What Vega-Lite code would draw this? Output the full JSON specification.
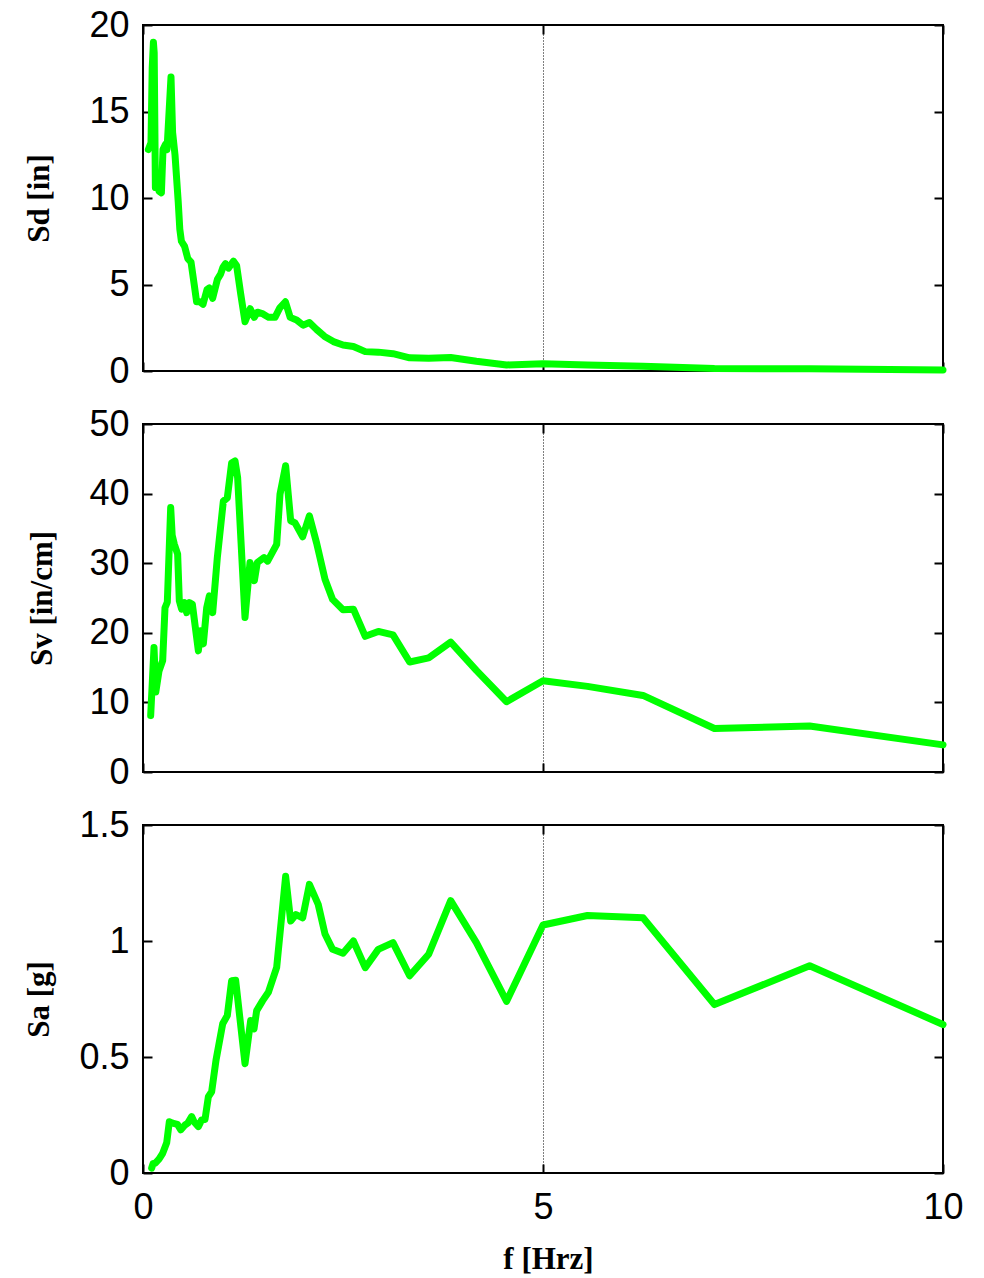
{
  "$schema": "https://vega.github.io/schema/vega-lite/v6.json",
  "background": "white",
  "padding": {"left": 22, "top": 6, "right": 5, "bottom": 5},
  "datasets": {
    "sd": [
      {"f": 0.067, "v": 12.8}, {"f": 0.1, "v": 13.2}, {"f": 0.115, "v": 17.5}, {"f": 0.13, "v": 19.0}, {"f": 0.14, "v": 18.4},
      {"f": 0.155, "v": 10.6}, {"f": 0.175, "v": 11.0}, {"f": 0.2, "v": 10.4}, {"f": 0.23, "v": 10.3}, {"f": 0.25, "v": 12.8},
      {"f": 0.28, "v": 13.1}, {"f": 0.3, "v": 12.8}, {"f": 0.35, "v": 17.0}, {"f": 0.37, "v": 13.8}, {"f": 0.4, "v": 12.5},
      {"f": 0.44, "v": 9.8}, {"f": 0.46, "v": 8.2}, {"f": 0.48, "v": 7.5}, {"f": 0.52, "v": 7.2}, {"f": 0.56, "v": 6.5},
      {"f": 0.6, "v": 6.3}, {"f": 0.64, "v": 5.0}, {"f": 0.67, "v": 4.0}, {"f": 0.71, "v": 4.0}, {"f": 0.75, "v": 3.85},
      {"f": 0.8, "v": 4.7}, {"f": 0.83, "v": 4.8}, {"f": 0.87, "v": 4.2}, {"f": 0.93, "v": 5.3}, {"f": 0.97, "v": 5.6},
      {"f": 1.0, "v": 6.0}, {"f": 1.03, "v": 6.2}, {"f": 1.07, "v": 5.95}, {"f": 1.13, "v": 6.35}, {"f": 1.17, "v": 6.1},
      {"f": 1.22, "v": 4.5}, {"f": 1.275, "v": 2.85}, {"f": 1.34, "v": 3.6}, {"f": 1.39, "v": 3.1}, {"f": 1.43, "v": 3.4},
      {"f": 1.5, "v": 3.3}, {"f": 1.57, "v": 3.1}, {"f": 1.65, "v": 3.1}, {"f": 1.71, "v": 3.65}, {"f": 1.78, "v": 4.0},
      {"f": 1.84, "v": 3.1}, {"f": 1.92, "v": 2.95}, {"f": 2.0, "v": 2.65}, {"f": 2.08, "v": 2.8}, {"f": 2.17, "v": 2.4},
      {"f": 2.27, "v": 2.0}, {"f": 2.38, "v": 1.7}, {"f": 2.5, "v": 1.5}, {"f": 2.63, "v": 1.42}, {"f": 2.778, "v": 1.12},
      {"f": 2.941, "v": 1.09}, {"f": 3.125, "v": 1.0}, {"f": 3.333, "v": 0.76}, {"f": 3.571, "v": 0.73}, {"f": 3.846, "v": 0.78},
      {"f": 4.167, "v": 0.56}, {"f": 4.545, "v": 0.35}, {"f": 5.0, "v": 0.42}, {"f": 5.556, "v": 0.35}, {"f": 6.25, "v": 0.28},
      {"f": 7.143, "v": 0.14}, {"f": 8.333, "v": 0.13}, {"f": 10.0, "v": 0.06}
    ],
    "sv": [
      {"f": 0.096, "v": 8.1}, {"f": 0.1375, "v": 17.9}, {"f": 0.16, "v": 11.5}, {"f": 0.2, "v": 14.5}, {"f": 0.246, "v": 16.0},
      {"f": 0.275, "v": 23.6}, {"f": 0.304, "v": 24.4}, {"f": 0.346, "v": 38.0}, {"f": 0.365, "v": 34.0}, {"f": 0.392, "v": 32.7},
      {"f": 0.433, "v": 31.3}, {"f": 0.454, "v": 24.6}, {"f": 0.483, "v": 23.4}, {"f": 0.517, "v": 24.35}, {"f": 0.546, "v": 22.9},
      {"f": 0.579, "v": 24.35}, {"f": 0.617, "v": 24.1}, {"f": 0.692, "v": 17.4}, {"f": 0.72, "v": 20.3}, {"f": 0.754, "v": 18.4},
      {"f": 0.796, "v": 23.6}, {"f": 0.829, "v": 25.3}, {"f": 0.871, "v": 22.9}, {"f": 0.929, "v": 30.8}, {"f": 1.004, "v": 38.9},
      {"f": 1.054, "v": 39.4}, {"f": 1.108, "v": 44.4}, {"f": 1.15, "v": 44.7}, {"f": 1.183, "v": 42.3}, {"f": 1.275, "v": 22.2},
      {"f": 1.3375, "v": 30.1}, {"f": 1.392, "v": 27.5}, {"f": 1.429, "v": 30.1}, {"f": 1.5125, "v": 30.8}, {"f": 1.558, "v": 30.3},
      {"f": 1.671, "v": 32.7}, {"f": 1.7125, "v": 39.9}, {"f": 1.783, "v": 44.0}, {"f": 1.846, "v": 36.1}, {"f": 1.9, "v": 35.8},
      {"f": 1.996, "v": 33.8}, {"f": 2.08, "v": 36.8}, {"f": 2.17, "v": 32.9}, {"f": 2.275, "v": 27.7}, {"f": 2.37, "v": 24.8},
      {"f": 2.5, "v": 23.3}, {"f": 2.63, "v": 23.4}, {"f": 2.778, "v": 19.5}, {"f": 2.941, "v": 20.2}, {"f": 3.125, "v": 19.7},
      {"f": 3.333, "v": 15.8}, {"f": 3.571, "v": 16.4}, {"f": 3.846, "v": 18.65}, {"f": 4.167, "v": 14.6}, {"f": 4.545, "v": 10.1},
      {"f": 5.0, "v": 13.1}, {"f": 5.556, "v": 12.3}, {"f": 6.25, "v": 11.0}, {"f": 7.143, "v": 6.25}, {"f": 8.333, "v": 6.6},
      {"f": 10.0, "v": 3.9}
    ],
    "sa": [
      {"f": 0.108, "v": 0.021}, {"f": 0.125, "v": 0.04}, {"f": 0.154, "v": 0.043}, {"f": 0.2, "v": 0.06}, {"f": 0.246, "v": 0.085},
      {"f": 0.296, "v": 0.13}, {"f": 0.329, "v": 0.221}, {"f": 0.37, "v": 0.215}, {"f": 0.43, "v": 0.21}, {"f": 0.471, "v": 0.186},
      {"f": 0.525, "v": 0.207}, {"f": 0.56, "v": 0.215}, {"f": 0.608, "v": 0.243}, {"f": 0.64, "v": 0.22}, {"f": 0.692, "v": 0.2},
      {"f": 0.733, "v": 0.229}, {"f": 0.775, "v": 0.231}, {"f": 0.817, "v": 0.329}, {"f": 0.858, "v": 0.35}, {"f": 0.9125, "v": 0.486},
      {"f": 0.996, "v": 0.643}, {"f": 1.054, "v": 0.679}, {"f": 1.108, "v": 0.829}, {"f": 1.158, "v": 0.831}, {"f": 1.275, "v": 0.471},
      {"f": 1.346, "v": 0.657}, {"f": 1.3875, "v": 0.621}, {"f": 1.421, "v": 0.7}, {"f": 1.496, "v": 0.743}, {"f": 1.567, "v": 0.779},
      {"f": 1.671, "v": 0.886}, {"f": 1.783, "v": 1.279}, {"f": 1.846, "v": 1.086}, {"f": 1.9125, "v": 1.114}, {"f": 1.996, "v": 1.1},
      {"f": 2.08, "v": 1.244}, {"f": 2.19, "v": 1.158}, {"f": 2.275, "v": 1.03}, {"f": 2.37, "v": 0.964}, {"f": 2.5, "v": 0.947},
      {"f": 2.63, "v": 1.0}, {"f": 2.778, "v": 0.885}, {"f": 2.941, "v": 0.964}, {"f": 3.125, "v": 0.993}, {"f": 3.333, "v": 0.85},
      {"f": 3.571, "v": 0.943}, {"f": 3.846, "v": 1.174}, {"f": 4.167, "v": 0.993}, {"f": 4.545, "v": 0.74}, {"f": 5.0, "v": 1.069},
      {"f": 5.556, "v": 1.11}, {"f": 6.25, "v": 1.1}, {"f": 7.143, "v": 0.726}, {"f": 8.333, "v": 0.893}, {"f": 10.0, "v": 0.64}
    ]
  },
  "spacing": 53,
  "bounds": "flush",
  "vconcat": [
    {
      "width": 800, "height": 346,
      "data": {"name": "sd"},
      "layer": [
        {
          "mark": {"type": "line"},
          "encoding": {
            "x": {"field": "f", "type": "quantitative", "scale": {"domain": [0, 10], "nice": false, "zero": false},
                  "axis": {"orient": "bottom", "values": [0, 5, 10], "labels": false, "title": null, "grid": true, "gridDash": [1, 2], "gridColor": "#000", "gridWidth": 1}},
            "y": {"field": "v", "type": "quantitative", "scale": {"domain": [0, 20], "nice": false},
                  "axis": {"orient": "left", "values": [0, 5, 10, 15, 20], "title": "Sd [in]", "titleX": -104, "titleY": 173, "titleAngle": 270, "titleAlign": "center", "titleBaseline": "middle", "labelPadding": 23, "labelAlign": "right", "labelBaseline": "middle"}}
          }
        },
        {
          "mark": {"type": "line", "strokeOpacity": 0},
          "encoding": {
            "x": {"field": "f", "type": "quantitative", "axis": {"orient": "top", "values": [0, 5, 10], "labels": false, "title": null, "grid": false}},
            "y": {"field": "v", "type": "quantitative", "axis": {"orient": "right", "values": [0, 5, 10, 15, 20], "labels": false, "title": null, "grid": false}}
          }
        }
      ],
      "resolve": {"axis": {"x": "independent", "y": "independent"}}
    },
    {
      "width": 800, "height": 348,
      "data": {"name": "sv"},
      "layer": [
        {
          "mark": {"type": "line"},
          "encoding": {
            "x": {"field": "f", "type": "quantitative", "scale": {"domain": [0, 10], "nice": false, "zero": false},
                  "axis": {"orient": "bottom", "values": [0, 5, 10], "labels": false, "title": null, "grid": true, "gridDash": [1, 2], "gridColor": "#000", "gridWidth": 1}},
            "y": {"field": "v", "type": "quantitative", "scale": {"domain": [0, 50], "nice": false},
                  "axis": {"orient": "left", "values": [0, 10, 20, 30, 40, 50], "title": "Sv [in/cm]", "titleX": -101, "titleY": 174, "titleAngle": 270, "titleAlign": "center", "titleBaseline": "middle", "labelPadding": 23, "labelAlign": "right", "labelBaseline": "middle"}}
          }
        },
        {
          "mark": {"type": "line", "strokeOpacity": 0},
          "encoding": {
            "x": {"field": "f", "type": "quantitative", "axis": {"orient": "top", "values": [0, 5, 10], "labels": false, "title": null, "grid": false}},
            "y": {"field": "v", "type": "quantitative", "axis": {"orient": "right", "values": [0, 10, 20, 30, 40, 50], "labels": false, "title": null, "grid": false}}
          }
        }
      ],
      "resolve": {"axis": {"x": "independent", "y": "independent"}}
    },
    {
      "width": 800, "height": 348,
      "data": {"name": "sa"},
      "layer": [
        {
          "mark": {"type": "line"},
          "encoding": {
            "x": {"field": "f", "type": "quantitative", "scale": {"domain": [0, 10], "nice": false, "zero": false},
                  "axis": {"orient": "bottom", "values": [0, 5, 10], "labels": true, "labelFlush": false, "labelPadding": 26, "labelBaseline": "top", "labelAlign": "center", "title": "f [Hrz]", "titleX": 405, "titleY": 86, "titleAngle": 0, "titleAlign": "center", "titleBaseline": "middle", "grid": true, "gridDash": [1, 2], "gridColor": "#000", "gridWidth": 1}},
            "y": {"field": "v", "type": "quantitative", "scale": {"domain": [0, 1.5], "nice": false},
                  "axis": {"orient": "left", "values": [0, 0.5, 1, 1.5], "format": "~g", "title": "Sa [g]", "titleX": -104, "titleY": 174, "titleAngle": 270, "titleAlign": "center", "titleBaseline": "middle", "labelPadding": 23, "labelAlign": "right", "labelBaseline": "middle"}}
          }
        },
        {
          "mark": {"type": "line", "strokeOpacity": 0},
          "encoding": {
            "x": {"field": "f", "type": "quantitative", "axis": {"orient": "top", "values": [0, 5, 10], "labels": false, "title": null, "grid": false}},
            "y": {"field": "v", "type": "quantitative", "axis": {"orient": "right", "values": [0, 0.5, 1, 1.5], "labels": false, "title": null, "grid": false}}
          }
        }
      ],
      "resolve": {"axis": {"x": "independent", "y": "independent"}}
    }
  ],
  "config": {
    "view": {"stroke": "#000", "strokeWidth": 2},
    "axis": {"domain": false, "tickColor": "#000", "tickWidth": 2, "tickSize": -9, "labelFont": "Liberation Sans", "labelFontSize": 36, "labelColor": "#000", "titleFont": "Liberation Serif", "titleFontWeight": "bold", "titleFontSize": 31, "titleColor": "#000", "grid": false},
    "line": {"color": "#00ff00", "strokeWidth": 7, "strokeJoin": "round", "strokeCap": "round"}
  }
}
